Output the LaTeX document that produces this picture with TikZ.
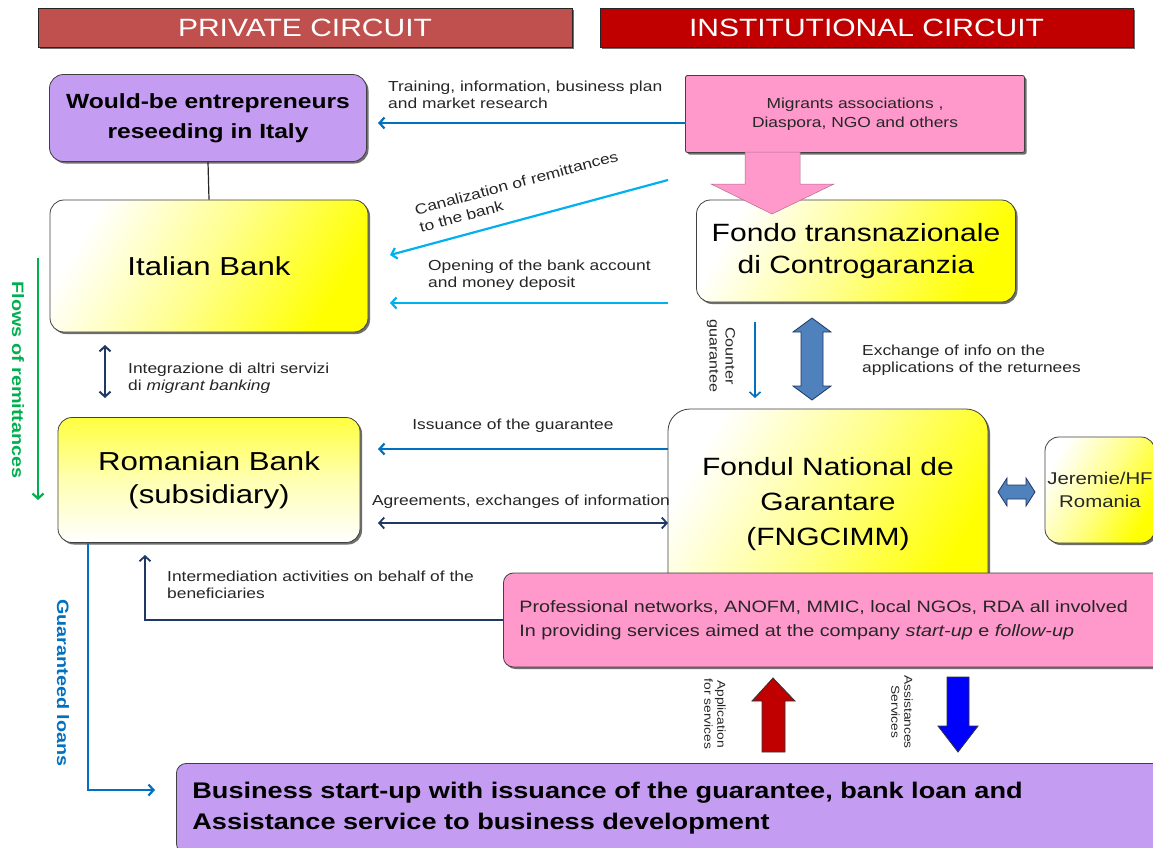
\documentclass[tikz,border=0pt]{standalone}
\usepackage{fontspec}
\setmainfont[FakeStretch=1.2]{Liberation Sans}
\usetikzlibrary{arrows.meta,shadows}
\definecolor{privred}{HTML}{C0504D}
\definecolor{instred}{HTML}{C00000}
\definecolor{lav}{HTML}{C49CF2}
\definecolor{pinkb}{HTML}{FF99CC}
\definecolor{arrblue}{HTML}{0070C0}
\definecolor{lblue}{HTML}{00B0F0}
\definecolor{navy}{HTML}{1F3864}
\definecolor{steel}{HTML}{4F81BD}
\definecolor{grn}{HTML}{00B050}
\definecolor{ylw}{HTML}{FFFF00}
\tikzset{
  box/.style={draw=black!75, line width=0.8pt, rounded corners=14pt, align=center, inner sep=0pt,
     drop shadow={shadow xshift=2pt, shadow yshift=-2pt, fill=black!70, opacity=0.8}},
  ybox/.style={box, left color=white, right color=ylw, middle color=ylw!45, shading angle=60},
  hdr/.style={draw=black!85, line width=1pt, text=white, inner sep=0pt,
     font=\fontsize{25}{28}\selectfont, drop shadow={shadow xshift=2pt, shadow yshift=-2pt, fill=black!70, opacity=0.8}},
  lab/.style={font=\fontsize{14.5}{17}\selectfont, align=left, text=black!85, inner sep=0pt},
  vlab/.style={font=\fontsize{11.5}{13}\selectfont, align=center, text=black!85, inner sep=0pt, rotate=-90},
  tip/.style={-{Straight Barb[length=5pt,width=11pt]}},
  dtip/.style={{Straight Barb[length=5pt,width=11pt]}-{Straight Barb[length=5pt,width=11pt]}},
}
\begin{document}
\begin{tikzpicture}[x=1pt,y=-1pt]
\useasboundingbox[fill=white] (0,0) rectangle (1153,847);

% headers
\node[hdr, fill=privred, minimum width=534pt, minimum height=39pt] (priv) at (305,27.5) {PRIVATE CIRCUIT};
\node[hdr, fill=instred, minimum width=533pt, minimum height=39pt] (inst) at (866.5,27.5) {INSTITUTIONAL CIRCUIT};

% left column boxes
\node[box, fill=lav, minimum width=317pt, minimum height=87pt, font=\bfseries\fontsize{20.5}{30}\selectfont] (wb) at (208,118) {Would-be entrepreneurs\\reseeding in Italy};
\node[ybox, minimum width=318pt, minimum height=132pt, font=\fontsize{26}{32}\selectfont] (ital) at (209,266) {Italian Bank};
\node[box, top color=ylw!75, bottom color=white, middle color=ylw!30, minimum width=302pt, minimum height=125pt, font=\fontsize{26}{33}\selectfont] (rom) at (209,480) {Romanian Bank\\(subsidiary)};

% right column boxes
\node[box, rounded corners=2pt, fill=pinkb, minimum width=339pt, minimum height=77pt, font=\fontsize{14.5}{19}\selectfont, text=black!85] (mig) at (855,114) {Migrants associations ,\\Diaspora, NGO and others};
\node[ybox, minimum width=319pt, minimum height=102pt, font=\fontsize{25}{32}\selectfont] (fondo) at (856,251) {Fondo transnazionale\\di Controgaranzia};
\node[ybox, rounded corners=22pt, minimum width=320pt, minimum height=190pt, font=\fontsize{25}{35}\selectfont] (fnd) at (828,504) {Fondul National de\\Garantare\\(FNGCIMM)};
\node[ybox, minimum width=110pt, minimum height=106pt, font=\fontsize{17}{23}\selectfont, text=black!85] (jer) at (1100,490) {Jeremie/HF\\Romania};

% professional networks box
\node[box, rounded corners=10pt, fill=pinkb, anchor=west, minimum height=94pt, text width=660pt, align=left, inner xsep=16pt, font=\fontsize{16.5}{24}\selectfont, text=black!85] (prof) at (503,620) {Professional networks, ANOFM, MMIC, local NGOs, RDA all involved\\In providing services aimed at the company \textit{start-up} e \textit{follow-up}};

% bottom box
\node[box, rounded corners=10pt, fill=lav, anchor=north west, minimum height=90pt, text width=970pt, align=left, inner xsep=16pt, font=\bfseries\fontsize{22.6}{31}\selectfont] (biz) at (176,763) {Business start-up with issuance of the guarantee, bank loan and\\Assistance service to business development};

% connector wb - ital
\draw[line width=1.2pt, black!85] (wb.south) -- (ital.north);

% coordinates for arrow ends
\coordinate (tr1) at (686,123); \coordinate (tr2) at (378,123);
\coordinate (ca1) at (668,180); \coordinate (ca2) at (390,255);
\coordinate (op1) at (668,303); \coordinate (op2) at (390,303);
\coordinate (is1) at (668,449); \coordinate (is2) at (378,449);
\coordinate (ag1) at (378,523); \coordinate (ag2) at (668,523);
\coordinate (in1) at (145,555);
\coordinate (gl0) at (88,543); \coordinate (gl1) at (155,790);
\coordinate (fl0) at (38,258); \coordinate (fl1) at (38,500);
\coordinate (mb0) at (105,345); \coordinate (mb1) at (105,398);
\coordinate (cg0) at (755,322); \coordinate (cg1) at (755,398);

\draw[tip, arrblue, line width=2.2pt] (tr1) -- (tr2);
\draw[tip, lblue, line width=2.2pt] (ca1) -- (ca2);
\draw[tip, lblue, line width=2.2pt] (op1) -- (op2);
\draw[tip, arrblue, line width=2.2pt] (is1) -- (is2);
\draw[dtip, navy, line width=1.8pt] (ag1) -- (ag2);
\draw[tip, navy, line width=1.8pt] (prof.west) -| (in1);
\draw[tip, arrblue, line width=2.2pt] (gl0) |- (gl1);
\draw[tip, grn, line width=2.2pt] (fl0) -- (fl1);
\draw[dtip, navy, line width=2pt] (mb0) -- (mb1);
\draw[tip, arrblue, line width=1.6pt] (cg0) -- (cg1);

% labels
\node[lab, anchor=south west] (ltr) at (388,109) {Training, information, business plan\\and market research};
\node[lab, anchor=south west, rotate=15, font=\fontsize{14.5}{18}\selectfont] (lca) at (421,233) {Canalization of remittances\\to the bank};
\node[lab, anchor=south west] (lop) at (428,291) {Opening of the bank account\\and money deposit};
\node[lab] (lis) at (513,426) {Issuance of the guarantee};
\node[lab] (lag) at (521,502) {Agreements, exchanges of information};
\node[lab, anchor=north west] (lin) at (167,571) {Intermediation activities on behalf of the\\beneficiaries};
\node[lab, anchor=west] (lmb) at (128,378) {Integrazione di altri servizi\\di \textit{migrant banking}};
\node[lab, anchor=west] (lex) at (862,360) {Exchange of info on the\\applications of the returnees};
\node[vlab, font=\fontsize{13.5}{16}\selectfont] (lcg) at (721,356) {Counter\\guarantee};
\node[vlab] (lap) at (715,714) {Application\\for services};
\node[vlab] (las) at (902,712) {Assistances\\Services};
\node[lab, rotate=-90, text=grn, font=\bfseries\fontsize{16.5}{18}\selectfont] (lfl) at (18,380) {Flows of remittances};
\node[lab, rotate=-90, text=arrblue, font=\bfseries\fontsize{16.5}{18}\selectfont] (lgl) at (63,683) {Guaranteed loans};

% block arrows
\draw[fill=pinkb, draw=pinkb!70!black, line width=0.5pt]
  (745,152) -- (800,152) -- (800,184) -- (834,184) -- (772,214) -- (711,184) -- (745,184) -- cycle;
\draw[fill=steel, draw=navy, line width=0.8pt]
  (812,318) -- (831,332) -- (823,332) -- (823,386) -- (831,386) -- (812,400) -- (793,386) -- (801,386) -- (801,332) -- (793,332) -- cycle;
\draw[fill=steel, draw=navy, line width=0.8pt]
  (998,492) -- (1007,478) -- (1007,485) -- (1026,485) -- (1026,478) -- (1035,492) -- (1026,506) -- (1026,499) -- (1007,499) -- (1007,506) -- cycle;
\draw[fill=instred, draw=black!80, line width=0.8pt]
  (773,678) -- (795,701) -- (785,701) -- (785,752) -- (762,752) -- (762,701) -- (752,701) -- cycle;
\draw[fill=blue, draw=black!80, line width=0.8pt]
  (947,677) -- (969,677) -- (969,726) -- (978,726) -- (958,752) -- (938,726) -- (947,726) -- cycle;
\end{tikzpicture}
\end{document}
